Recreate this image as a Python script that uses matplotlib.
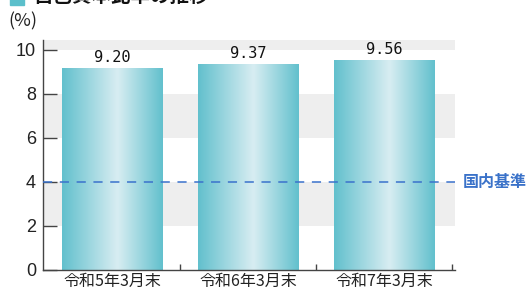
import matplotlib
matplotlib.use("Agg")
import matplotlib.pyplot as plt
import numpy as np
from matplotlib.colors import LinearSegmentedColormap
from matplotlib.patches import Rectangle

categories = ["令和5年3月末", "令和6年3月末", "令和7年3月末"]
values = [9.20, 9.37, 9.56]
value_labels = ["9.20", "9.37", "9.56"]
yticks = [0, 2, 4, 6, 8, 10]
domestic_standard = 4
title = "自己資本比率の推移"
ref_label = "国内基準"

plt.rcParams['font.family'] = ['Noto Sans CJK JP', 'DejaVu Sans']

W, H = 528, 289
fig = plt.figure(figsize=(W / 100, H / 100), dpi=100)
ax = fig.add_axes([43 / W, (H - 270) / H, (455 - 43) / W, (270 - 40) / H])

ymax = 10.45
ax.set_xlim(-0.507, 2.52)
ax.set_ylim(0, ymax)

# alternating background bands
for lo, hi in [(2, 4), (6, 8), (10, ymax)]:
    ax.axhspan(lo, hi, color="#eeeeee", zorder=0, lw=0)

cmap = LinearSegmentedColormap.from_list(
    "bar", [(0, "#62c0cd"), (0.55, "#d8edf2"), (1, "#62c0cd")])
grad = np.linspace(0, 1, 256).reshape(1, -1)
bw = 0.735
x = np.arange(len(categories))
bars = ax.bar(x, values, width=bw, color="none", zorder=2)
for b, lab in zip(bars, value_labels):
    x0, y0 = b.get_x(), b.get_y()
    w, h = b.get_width(), b.get_height()
    im = ax.imshow(grad, cmap=cmap, aspect="auto", extent=(x0, x0 + w, y0, y0 + h),
                   zorder=2, interpolation="bicubic")
    clip = Rectangle((x0, y0), w, h, transform=ax.transData)
    im.set_clip_path(clip)
    ax.text(x0 + w / 2, y0 + h + 0.12, lab, ha="center", va="bottom",
            fontsize=11, family=["DejaVu Sans Mono"], color="#111111", zorder=4)

ax.set_xlim(-0.507, 2.52)
ax.set_ylim(0, ymax)

ax.plot([-0.507, 2.52], [domestic_standard] * 2, color="#3a72cc", lw=1.1,
        dashes=(6, 5), zorder=3, clip_on=False)
ax.text(2.575, domestic_standard, ref_label, color="#3a72c9", fontsize=11.5,
        fontweight="bold", ha="left", va="center")

for s in ["top", "right"]:
    ax.spines[s].set_visible(False)
for s in ["left", "bottom"]:
    ax.spines[s].set_color("#444444")
    ax.spines[s].set_linewidth(1.0)

ax.set_yticks(yticks)
ax.set_yticklabels([str(t) for t in yticks],
                   family=["Liberation Sans Narrow", "Liberation Sans"], fontsize=13)
ax.tick_params(axis="y", direction="in", length=10, width=1, color="#444444",
               pad=5, labelcolor="#222222")
ax.set_xticks(x)
ax.set_xticklabels(categories, fontsize=11.5, color="#222222")
ax.tick_params(axis="x", length=0, pad=2)
ax.set_xticks([0.5, 1.5, 2.5], minor=True)
ax.tick_params(axis="x", which="minor", direction="in", length=4, width=1, color="#444444")

fig.text(8 / W, (H - 21) / H, "(%)", fontsize=13, color="#222222", ha="left", va="center")

# title (cut at top)
fig.patches.append(Rectangle((10 / W, (H - 5) / H), 14 / W, 10 / H,
                             transform=fig.transFigure, color="#5bbfcb"))
fig.text(33 / W, (H - 6) / H, title, fontsize=14, fontweight="bold",
         color="#111111", ha="left", va="bottom")

fig.savefig("out.png", dpi=100)
